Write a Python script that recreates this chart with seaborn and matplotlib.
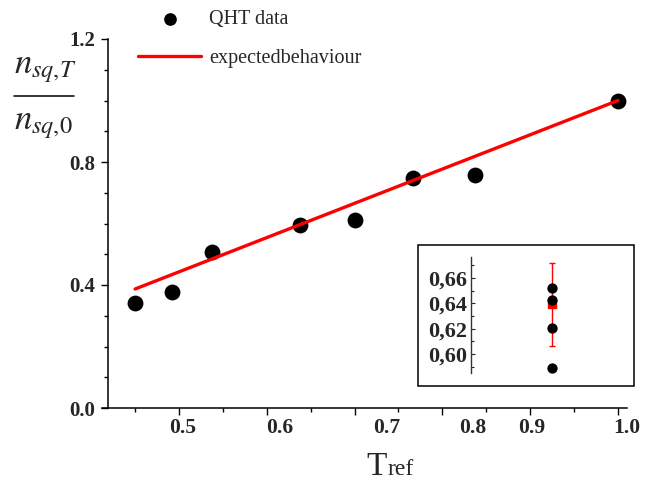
import matplotlib
matplotlib.use("Agg")
import matplotlib.pyplot as plt
import seaborn as sns
import pandas as pd
from matplotlib.lines import Line2D
from matplotlib.patches import Rectangle
from matplotlib.ticker import FixedLocator, FuncFormatter, NullFormatter

# ---------------- data ----------------
t_ref = [0.450, 0.492, 0.538, 0.638, 0.700, 0.767, 0.837, 1.000]
n_ratio = [0.341, 0.377, 0.507, 0.595, 0.611, 0.748, 0.758, 0.998]

expected_t = [0.450, 1.000]
expected_ratio = [0.387, 1.000]

x_tick_labels = ["0.5", "0.6", "0.7", "0.8", "0.9", "1.0"]
x_label_pos = [0.5045, 0.615, 0.737, 0.835, 0.902, 1.010]
x_major = [0.5, 0.6, 0.7, 0.8, 0.9, 1.0]
x_minor = [0.45, 0.55, 0.65, 0.75, 0.85, 0.95]
y_major = [0.0, 0.4, 0.8, 1.2]
y_minor = [0.1, 0.2, 0.3, 0.5, 0.6, 0.7, 0.9, 1.0, 1.1]

inset_vals = [0.652, 0.6426, 0.6208, 0.5889]
inset_mean = [0.6391]
inset_err = [0.0328]
inset_major = [0.60, 0.62, 0.64, 0.66]
inset_minor = [0.59, 0.61, 0.63, 0.65, 0.67]

# ---------------- style ----------------
sns.set_style("ticks")
plt.rcParams["font.family"] = ["Liberation Serif", "DejaVu Serif"]
plt.rcParams["mathtext.fontset"] = "stix"

W, H = 645, 487
fig = plt.figure(figsize=(W / 100, H / 100), dpi=100)


def fx(x):
    return x / W


def fy(y):
    return 1 - y / H


ax = fig.add_axes([fx(102), fy(408), (627 - 102) / W, (408 - 39) / H])

df = pd.DataFrame({"t": t_ref, "n": n_ratio})
dfe = pd.DataFrame({"t": expected_t, "n": expected_ratio})
sns.scatterplot(data=df, x="t", y="n", ax=ax, color="black", s=130,
                edgecolor="black", linewidth=0, label="QHT data",
                clip_on=False, zorder=2)
sns.lineplot(data=dfe, x="t", y="n", ax=ax, color="#ff0000", lw=2.4,
             label="expectedbehaviour", zorder=3)

ax.set_xlim(0.4123, 1.0103)
ax.set_ylim(0, 1.2)
for s in ["top", "right"]:
    ax.spines[s].set_visible(False)
ax.spines["left"].set_position(("data", 0.4192))
for s in ["left", "bottom"]:
    ax.spines[s].set_linewidth(1.1)
    ax.spines[s].set_color("black")

ax.xaxis.set_major_locator(FixedLocator(x_major))
ax.xaxis.set_minor_locator(FixedLocator(x_minor))
ax.xaxis.set_major_formatter(NullFormatter())
ax.yaxis.set_major_locator(FixedLocator(y_major))
ax.yaxis.set_minor_locator(FixedLocator(y_minor))
ax.set_yticklabels(["0.0", "0.4", "0.8", "1.2"])
ax.tick_params(which="major", direction="out", length=5, width=1.0, color="black")
ax.tick_params(which="minor", direction="out", length=3, width=1.0, color="black")
ax.tick_params(axis="y", labelsize=15, pad=4)
for lab in ax.get_yticklabels():
    lab.set_fontweight("bold")

for lab, pos in zip(x_tick_labels, x_label_pos):
    ax.text(pos, -20 / 369, lab, transform=ax.get_xaxis_transform(),
            ha="center", va="center", fontsize=15.5, fontweight="bold")

ax.set_xlabel("")
ax.set_ylabel("")

# legend
handles, labels = ax.get_legend_handles_labels()
ax.legend(handles, labels, loc="upper left",
          bbox_to_anchor=(fx(138), fy(10)), bbox_transform=fig.transFigure,
          frameon=False, fontsize=14.5, handlelength=3.13, handletextpad=0.4,
          labelspacing=1.0, borderpad=0, borderaxespad=0, markerscale=0.8)

# axis labels
fig.text(fx(387), fy(475), "T", ha="right", va="baseline", fontsize=24)
fig.text(fx(387), fy(475), "ref", ha="left", va="baseline", fontsize=17)

fig.text(fx(45), fy(73), r"$n_{sq{,}T}$", ha="center", va="baseline", fontsize=25)
fig.text(fx(43), fy(129), r"$n_{sq{,}0}$", ha="center", va="baseline", fontsize=25)
fig.add_artist(Line2D([fx(14), fx(74)], [fy(96), fy(96)], color="black",
                      lw=1.1, transform=fig.transFigure))

# ---------------- inset ----------------
L, R, T, B = 418, 634, 245, 386
fig.add_artist(Rectangle((fx(L), fy(B)), (R - L) / W, (B - T) / H,
                         transform=fig.transFigure, fill=False,
                         edgecolor="black", lw=1.1, zorder=5))
iax = fig.add_axes([fx(L), fy(B), (R - L) / W, (B - T) / H])
iax.patch.set_alpha(0)
iax.set_xlim(0, 1)
iax.set_ylim(0.5747, 0.6861)
xi = 0.62
dfi = pd.DataFrame({"x": [xi] * len(inset_vals), "v": inset_vals})
sns.scatterplot(data=dfi, x="x", y="v", ax=iax, color="black", s=55,
                linewidth=0, zorder=3)
iax.errorbar([xi], inset_mean, yerr=inset_err, fmt="s", color="#ff0000",
             ms=6, lw=1.0, capsize=2, capthick=1.0, zorder=2)
for s in ["top", "right", "bottom"]:
    iax.spines[s].set_visible(False)
iax.spines["left"].set_position(("axes", (471 - L) / (R - L)))
iax.spines["left"].set_bounds(0.585, 0.6766)
iax.spines["left"].set_color("#333333")
iax.spines["left"].set_linewidth(1.0)
iax.set_xticks([])
iax.yaxis.set_major_locator(FixedLocator(inset_major))
iax.yaxis.set_minor_locator(FixedLocator(inset_minor))
iax.yaxis.set_major_formatter(FuncFormatter(lambda v, p: f"{v:.2f}".replace(".", ",")))
iax.tick_params(axis="y", which="major", direction="in", length=3, width=0.8,
                labelsize=16, pad=3)
iax.tick_params(axis="y", which="minor", direction="in", length=2, width=0.8)
for lab in iax.get_yticklabels():
    lab.set_fontweight("bold")
iax.set_xlabel("")
iax.set_ylabel("")
if iax.get_legend() is not None:
    iax.get_legend().remove()

fig.savefig("out.png", dpi=100)
